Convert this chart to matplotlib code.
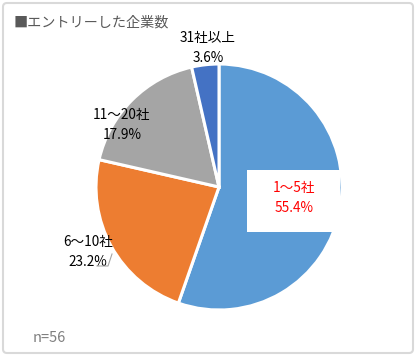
import matplotlib.pyplot as plt
from matplotlib.patches import FancyBboxPatch

plt.rcParams['font.family'] = ['Noto Sans CJK JP', 'DejaVu Sans']

# data
categories = ['1～5社', '6～10社', '11～20社', '31社以上']
counts = [31, 13, 10, 2]
pct_labels = ['55.4%', '23.2%', '17.9%', '3.6%']
colors = ['#5B9BD5', '#ED7D31', '#A5A5A5', '#4472C4']

W, H = 416, 356
fig = plt.figure(figsize=(W / 100, H / 100), dpi=100)
ax = fig.add_axes([0, 0, 1, 1])

# outer frame
frame = FancyBboxPatch((3, 3), W - 6, H - 6, boxstyle='round,pad=0,rounding_size=4',
                       fc='white', ec='#D9D9D9', lw=1.5, zorder=0)
ax.add_patch(frame)

cx, cy, r = 219, H - 187, 123
ax.pie(counts, colors=colors, startangle=90, counterclock=False,
       center=(cx, cy), radius=r, frame=True,
       wedgeprops=dict(edgecolor='white', linewidth=2.2))
ax.set_xlim(0, W)
ax.set_ylim(0, H)
ax.set_aspect('equal')
ax.axis('off')

# labels (pixel positions from top-left)
label_pos = [(294, 188), (88, 242), (122, 115), (208, 38)]
for i, (lx, ly) in enumerate(label_pos):
    col = 'red' if i == 0 else 'black'
    ax.text(lx, H - ly, categories[i], ha='center', va='center', fontsize=9.8, color=col, zorder=5)
    ax.text(lx, H - ly - 20, pct_labels[i], ha='center', va='center', fontsize=9.8, color=col, zorder=5)

# white box behind the largest label
ax.add_patch(plt.Rectangle((247, H - 232), 93, 62, fc='white', ec='none', zorder=4))

# leader line for 6~10社
ax.plot([97, 108, 112], [H - 266, H - 266, H - 254], color='#A6A6A6', lw=0.8, zorder=5)

ax.text(14, H - 22, '■エントリーした企業数', ha='left', va='center', fontsize=10.2, color='#595959')
ax.text(33, H - 338, 'n=56', ha='left', va='center', fontsize=10.5, color='#7F7F7F')

fig.savefig('out.png', dpi=100)
